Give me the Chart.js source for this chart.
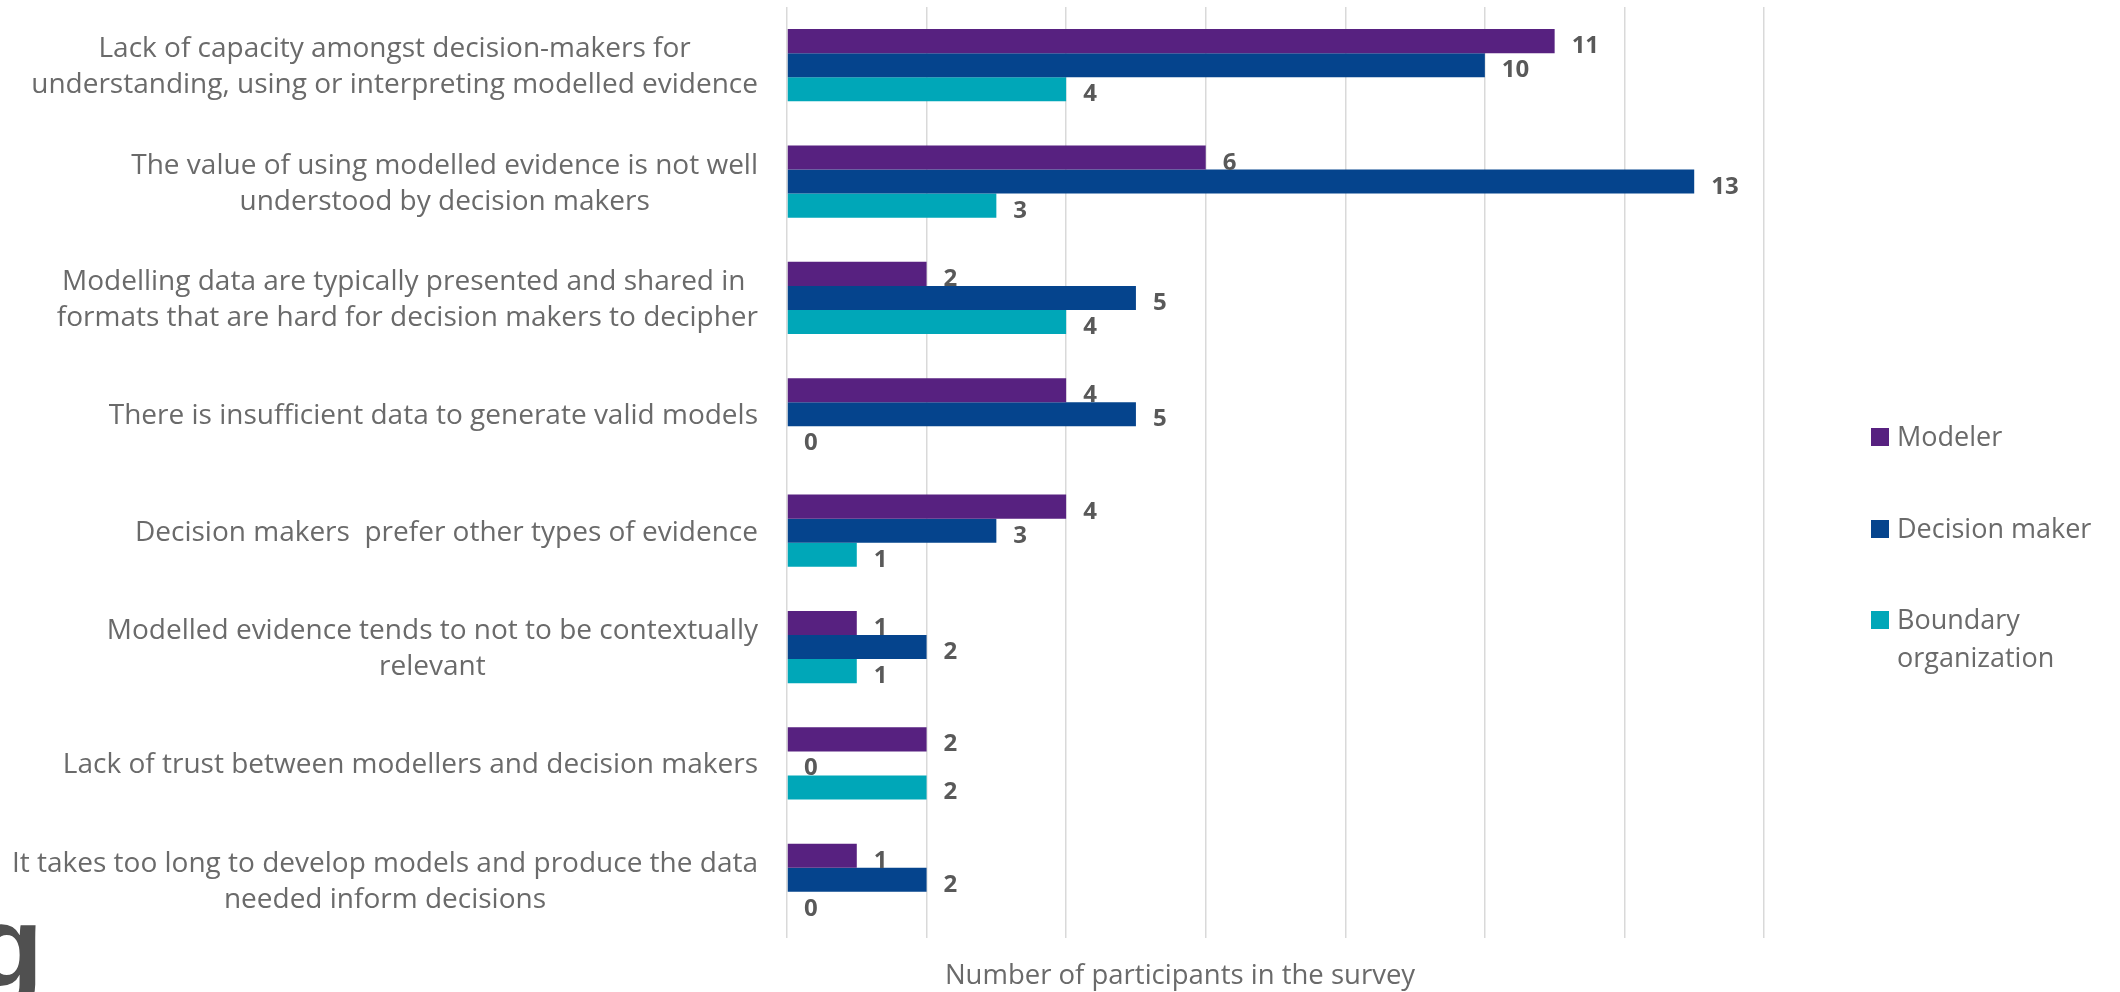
<!DOCTYPE html>
<html>
<head>
<meta charset="utf-8">
<script src="https://cdn.jsdelivr.net/npm/chart.js@4.4.1/dist/chart.umd.min.js"></script>
<style>
html,body{margin:0;padding:0;background:#fff;width:2120px;height:992px;overflow:hidden;}
#wrap{position:relative;width:2120px;height:992px;overflow:hidden;}
#c{position:absolute;left:0;top:0;}
.lg{position:absolute;font-family:"Open Sans",sans-serif;font-size:27px;line-height:38px;color:#6a6a6a;white-space:nowrap;}
.lgbox{position:absolute;width:18px;height:18px;}
#xtitle{position:absolute;left:880px;width:600px;top:955px;text-align:center;font-family:"Open Sans",sans-serif;font-size:27.5px;line-height:38px;color:#6a6a6a;white-space:nowrap;}
#logo{position:absolute;left:-27px;top:890px;font-family:"Liberation Sans",Arial,sans-serif;font-weight:bold;font-size:115px;line-height:115px;color:#505050;}
</style>
</head>
<body>
<div id="wrap">
<canvas id="c" width="2120" height="992"></canvas>
<div id="logo">g</div>
</div>
<script>
// ---- data ----
const categories = [
  ["Lack of capacity amongst decision-makers for", "understanding, using or interpreting modelled evidence"],
  ["The value of using modelled evidence is not well", "understood by decision makers"],
  ["Modelling data are typically presented and shared in ", "formats that are hard for decision makers to decipher"],
  ["There is insufficient data to generate valid models"],
  ["Decision makers  prefer other types of evidence"],
  ["Modelled evidence tends to not to be contextually", "relevant"],
  ["Lack of trust between modellers and decision makers"],
  ["It takes too long to develop models and produce the data", "needed inform decisions"]
];
const seriesNames = ["Modeler", "Decision maker", ["Boundary", "organization"]];
const modeler       = [11, 6, 2, 4, 4, 1, 2, 1];
const decisionMaker = [10, 13, 5, 5, 3, 2, 0, 2];
const boundaryOrg   = [4, 3, 4, 0, 1, 1, 2, 0];
const xTicks = [0, 2, 4, 6, 8, 10, 12, 14];
const axisTitle = "Number of participants in the survey";
const seriesColors = ["#572180", "#05448D", "#00A7B8"];

const LABEL_FONT = '28px "Open Sans"';
const VALUE_FONT = 'bold 24px "Open Sans"';

const catLabelsPlugin = {
  id: 'catLabels',
  afterDraw(chart) {
    const ctx = chart.ctx;
    const ys = chart.scales.y;
    ctx.save();
    ctx.font = LABEL_FONT;
    ctx.fillStyle = '#6a6a6a';
    ctx.textAlign = 'center';
    ctx.textBaseline = 'alphabetic';
    const rightEdge = chart.chartArea.left - 29;
    categories.forEach((lines, i) => {
      const cy = ys.getPixelForValue(i);
      let w = 0;
      lines.forEach(l => { w = Math.max(w, ctx.measureText(l).width); });
      const cx = rightEdge - w / 2;
      const n = lines.length;
      lines.forEach((l, j) => {
        ctx.fillText(l, cx, cy + 10 + (j - (n - 1) / 2) * 36);
      });
    });
    ctx.restore();
  }
};

const valueLabelsPlugin = {
  id: 'valueLabels',
  afterDatasetsDraw(chart) {
    const ctx = chart.ctx;
    ctx.save();
    ctx.font = VALUE_FONT;
    ctx.fillStyle = '#595959';
    ctx.textAlign = 'left';
    ctx.textBaseline = 'alphabetic';
    chart.data.datasets.forEach((ds, di) => {
      const meta = chart.getDatasetMeta(di);
      meta.data.forEach((el, i) => {
        ctx.fillText(String(ds.data[i]), el.x + 17, el.y + 12);
      });
    });
    ctx.restore();
  }
};

function draw() {
  const ctx = document.getElementById('c');
  const seriesData = [modeler, decisionMaker, boundaryOrg];
  new Chart(ctx, {
    type: 'bar',
    data: {
      labels: categories,
      datasets: seriesData.map((d, k) => ({
        label: Array.isArray(seriesNames[k]) ? seriesNames[k].join(' ') : seriesNames[k],
        data: d,
        backgroundColor: seriesColors[k],
        borderWidth: 0,
        categoryPercentage: 0.62,
        barPercentage: 1.0
      }))
    },
    options: {
      indexAxis: 'y',
      responsive: false,
      animation: false,
      devicePixelRatio: 1,
      layout: { padding: { left: 0, right: 356, top: 7, bottom: 54 } },
      plugins: { legend: { display: false }, tooltip: { enabled: false } },
      scales: {
        x: {
          type: 'linear',
          min: xTicks[0],
          max: xTicks[xTicks.length - 1],
          afterBuildTicks: s => { s.ticks = xTicks.map(v => ({ value: v })); },
          ticks: { display: false },
          grid: { color: '#d9d9d9', lineWidth: 1.5, drawTicks: false },
          border: { display: false },
          afterFit: s => { s.height = 0; }
        },
        y: {
          type: 'category',
          ticks: { display: false },
          grid: { display: false, drawTicks: false },
          border: { display: false },
          afterFit: s => { s.width = 787; }
        }
      }
    },
    plugins: [catLabelsPlugin, valueLabelsPlugin]
  });

  // legend (HTML)
  const wrap = document.getElementById('wrap');
  seriesNames.forEach((name, k) => {
    const top = 417 + k * 91.5;
    const box = document.createElement('div');
    box.className = 'lgbox';
    box.style.left = '1871px';
    box.style.top = (top + 11) + 'px';
    box.style.background = seriesColors[k];
    wrap.appendChild(box);
    const t = document.createElement('div');
    t.className = 'lg';
    t.style.left = '1897px';
    t.style.top = top + 'px';
    (Array.isArray(name) ? name : [name]).forEach((line, j) => {
      if (j) t.appendChild(document.createElement('br'));
      t.appendChild(document.createTextNode(line));
    });
    wrap.appendChild(t);
  });
  const xt = document.createElement('div');
  xt.id = 'xtitle';
  xt.textContent = axisTitle;
  wrap.appendChild(xt);
}

Promise.all([
  document.fonts.load(LABEL_FONT),
  document.fonts.load(VALUE_FONT)
]).then(draw, draw);
</script>
</body>
</html>
